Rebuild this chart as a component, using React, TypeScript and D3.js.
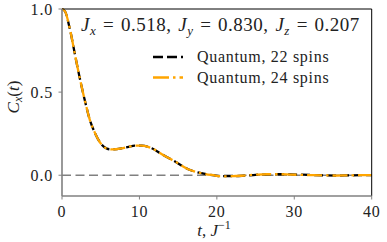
import React from 'react';
import * as d3 from 'd3';

// time axis, in units of 1/J
const times = [0, 0.4, 1.0, 1.7, 2.3, 3.0, 3.6, 4.3, 5.1, 5.8, 6.4, 7.7, 8.6, 9.4, 10.3, 11.6, 12.9, 14.6, 16.3, 18.0, 19.8, 20.5, 22.0, 23.5, 25.0, 26.5, 28.0, 29.5, 31.0, 32.5, 34.0, 35.5, 37.0, 38.5, 40.0];
// C_x(t) for 22 spins
const spins22 = [1.0, 0.985, 0.883, 0.72, 0.583, 0.44, 0.332, 0.25, 0.185, 0.16, 0.155, 0.162, 0.171, 0.178, 0.178, 0.162, 0.126, 0.082, 0.036, 0.012, -0.002, -0.006, -0.006, -0.003, 0.002, 0.005, 0.006, 0.005, 0.003, 0.001, -0.001, -0.002, -0.001, 0.0, 0.0];
// C_x(t) for 24 spins
const spins24 = [1.0, 0.985, 0.883, 0.72, 0.583, 0.44, 0.332, 0.25, 0.185, 0.16, 0.155, 0.162, 0.171, 0.178, 0.178, 0.162, 0.126, 0.082, 0.036, 0.012, -0.002, -0.007, -0.006, -0.002, 0.003, 0.006, 0.006, 0.004, 0.002, 0.0, -0.001, -0.002, -0.001, 0.0, 0.0];
const xTicks = [0, 10, 20, 30, 40];
const yTicks = [0.0, 0.5, 1.0];
const legendLabels = ['Quantum, 22 spins', 'Quantum, 24 spins'];
const titleParts = [['J', 'x', ' = 0.518, '], ['J', 'y', ' = 0.830, '], ['J', 'z', ' = 0.207']];

const FONT = 'Liberation Serif';
const INK = '#222';
const SPINE_GRAY = '#808080';

const left = 62, right = 371.7, top = 9, bottom = 196;
const x = d3.scaleLinear().domain([0, 40]).range([left, right]);
const y = d3.scaleLinear().domain([-0.125, 1.0]).range([bottom, top]);

const line = d3.line<number>()
  .x((d, i) => x(times[i]))
  .y(d => y(d))
  .curve(d3.curveMonotoneX);

const legendStyles = [
  { color: 'black', dash: '10,4' },
  { color: 'orange', dash: '16,4,2.5,4' },
];

function App() {
  return (
    <svg width={387} height={242} fontFamily={FONT}
      style={{ position: 'absolute', left: 0, top: 0, background: 'white' }}>
      {/* zero line */}
      <line x1={x(0)} x2={x(40)} y1={y(0)} y2={y(0)}
        stroke={SPINE_GRAY} strokeWidth={1.5} strokeDasharray="9,4.5" />

      <path d={line(spins22) || ''} fill="none" stroke="black" strokeWidth={2.3} strokeDasharray="9,4" />
      <path d={line(spins24) || ''} fill="none" stroke="orange" strokeWidth={2.3} strokeDasharray="15,4,2.5,4" />

      {/* spines */}
      <line x1={left} x2={right} y1={top} y2={top} stroke="black" strokeWidth={1} />
      <line x1={right} x2={right} y1={top} y2={bottom} stroke="black" strokeWidth={1} />
      <line x1={left} x2={left} y1={top} y2={bottom} stroke={SPINE_GRAY} strokeWidth={1.6} />
      <line x1={left} x2={right} y1={bottom} y2={bottom} stroke={SPINE_GRAY} strokeWidth={1.6} />

      {/* x ticks */}
      {xTicks.map(t => (
        <g key={'x' + t} transform={`translate(${x(t)},${bottom})`}>
          <line y1={0} y2={3.5} stroke={SPINE_GRAY} />
          <text y={21} textAnchor="middle" fontSize={16} fill={INK} letterSpacing={0.8}>{t}</text>
        </g>
      ))}
      {/* y ticks */}
      {yTicks.map(t => (
        <g key={'y' + t} transform={`translate(${left},${y(t)})`}>
          <line x1={0} x2={-3.5} stroke={SPINE_GRAY} />
          <text x={-9} y={5.5} textAnchor="end" fontSize={16} fill={INK} letterSpacing={0.8}>{d3.format('.1f')(t)}</text>
        </g>
      ))}

      {/* title */}
      <text x={81} y={31} fontSize={19} fill={INK} letterSpacing={0.5} wordSpacing={1.5}>
        {titleParts.map((p, i) => (
          <React.Fragment key={i}>
            <tspan fontStyle="italic">{p[0]}</tspan>
            <tspan fontStyle="italic" fontSize={13} dy={4}>{p[1]}</tspan>
            <tspan dy={-4}>{p[2]}</tspan>
          </React.Fragment>
        ))}
      </text>

      {/* legend */}
      {legendLabels.map((label, i) => {
        const ly = 57 + i * 20.5;
        return (
          <g key={label}>
            <line x1={153} x2={183} y1={ly} y2={ly} stroke={legendStyles[i].color}
              strokeWidth={2.3} strokeDasharray={legendStyles[i].dash} />
            <text x={197} y={ly + 5} fontSize={16} fill={INK} letterSpacing={0.7}>{label}</text>
          </g>
        );
      })}

      {/* y label */}
      <text transform="translate(19,97) rotate(-90)" textAnchor="middle" fontSize={17} fill={INK}>
        <tspan fontStyle="italic">C</tspan>
        <tspan fontStyle="italic" fontSize={12} dy={3}>x</tspan>
        <tspan dy={-3}>(</tspan>
        <tspan fontStyle="italic">t</tspan>
        <tspan>)</tspan>
      </text>

      {/* x label */}
      <text x={214} y={236} textAnchor="middle" fontSize={17} fill={INK}>
        <tspan fontStyle="italic">t</tspan>
        <tspan>, </tspan>
        <tspan fontStyle="italic">J</tspan>
        <tspan fontSize={12} dy={-7}>{'\u22121'}</tspan>
      </text>
    </svg>
  );
}

export default App;
